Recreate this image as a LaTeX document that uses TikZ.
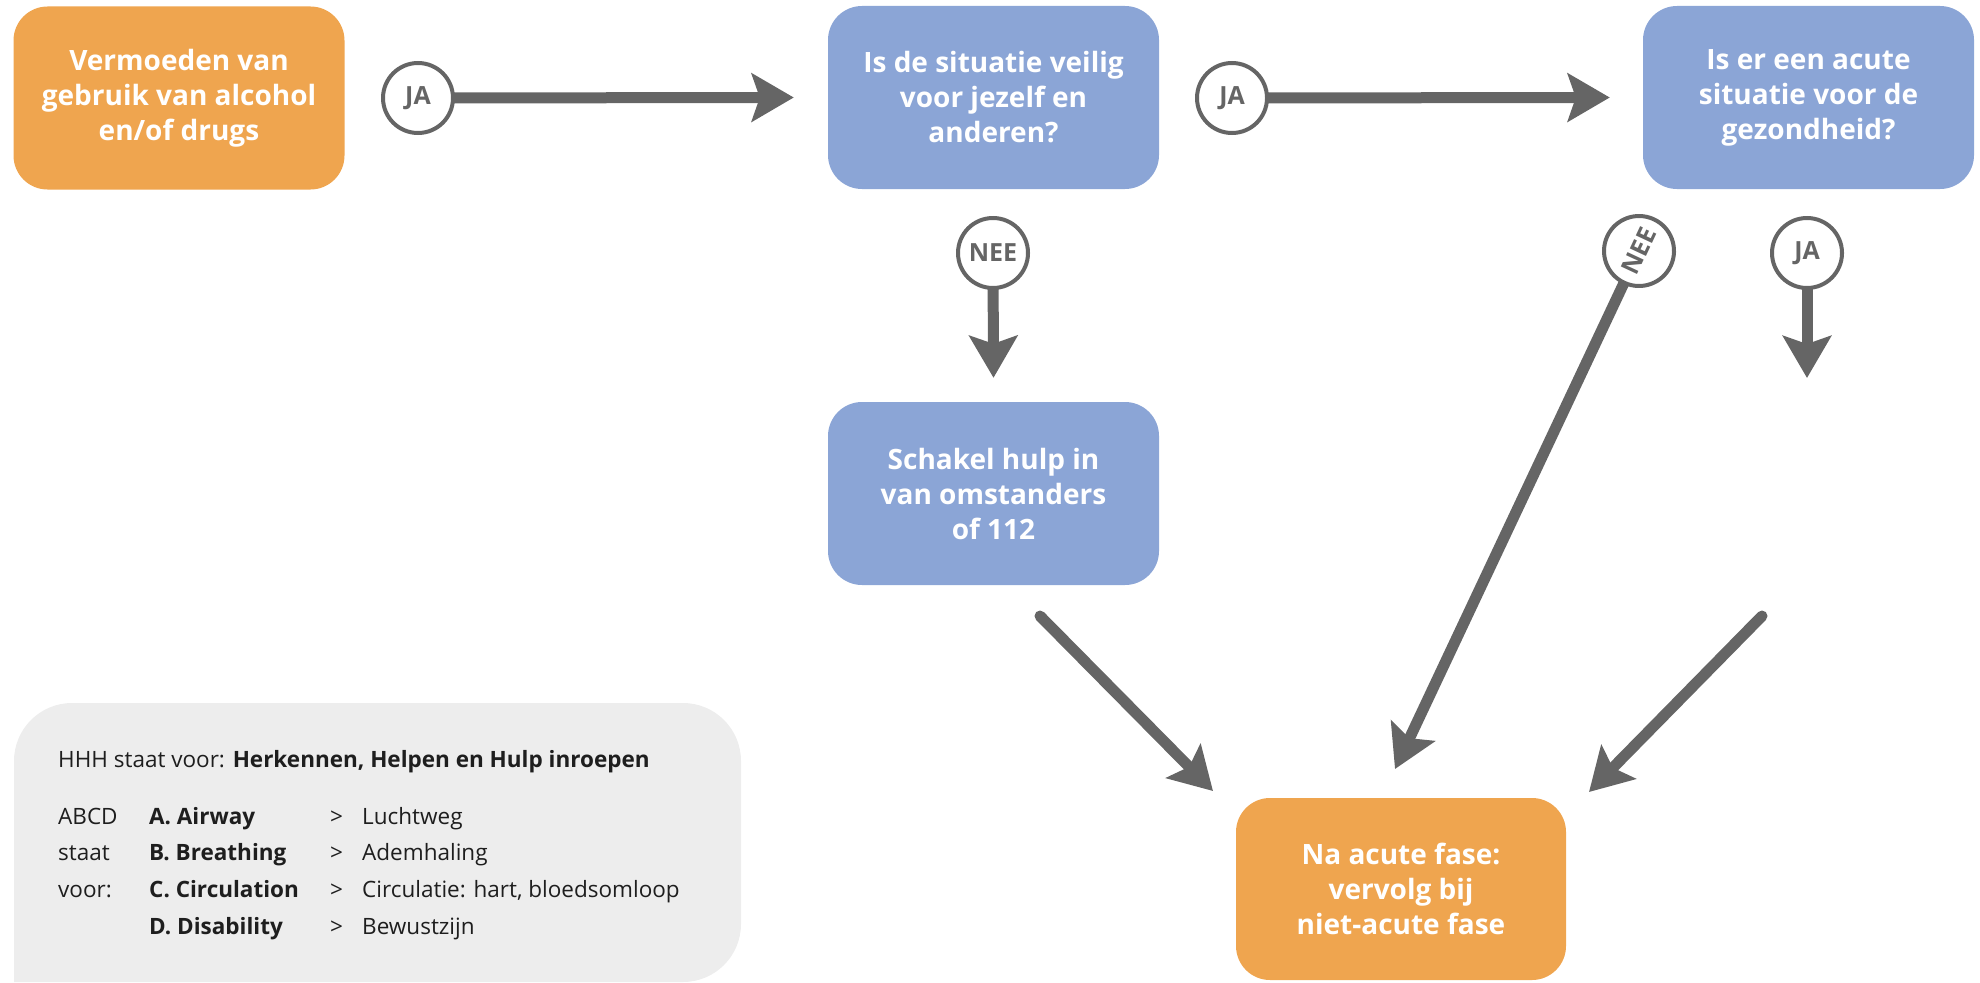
\documentclass[tikz,border=0pt]{standalone}
\usepackage{fontspec}
\setmainfont{Open Sans}
\usetikzlibrary{arrows.meta,positioning,backgrounds}

\definecolor{fcorange}{HTML}{EFA54F}
\definecolor{fcblue}{HTML}{8BA5D6}
\definecolor{fcgray}{HTML}{656565}
\definecolor{fclegend}{HTML}{EDEDED}
\definecolor{fctext}{HTML}{1E1E1E}

\tikzset{
  box/.style={rectangle, rounded corners=34pt, minimum width=331pt,
    minimum height=183pt, inner sep=0pt, text=white, align=center,
    font=\fontsize{28}{35}\selectfont\bfseries},
  startbox/.style={box, fill=fcorange},
  askbox/.style={box, fill=fcblue},
  answer/.style={circle, draw=fcgray, line width=4pt, fill=white,
    minimum size=70pt, inner sep=0pt, text=fcgray,
    font=\fontsize{25}{25}\selectfont\bfseries},
  flow/.style={draw=fcgray, line width=11pt, shorten <=-4pt,
    -{Stealth[length=42pt,width=48pt,inset=8pt]}},
  legendtext/.style={inner sep=0pt, text=fctext,
    font=\fontsize{22.5}{36.7}\selectfont},
}

\begin{document}
\begin{tikzpicture}[x=1pt,y=-1pt]

  \useasboundingbox (0,0) rectangle (1980,982);

  % legend panel
  \fill[fclegend, rounded corners=58pt] (14,982) -- (14,703) -- (741,703)
    -- (741,982) [sharp corners] -- cycle;

  % boxes
  \node[startbox] (vermoeden) at (179,98) {Vermoeden van\\gebruik van alcohol\\en/of drugs};
  \node[askbox] (veilig) at (993.5,97.5) {Is de situatie veilig\\voor jezelf en\\anderen?};
  \node[askbox] (acuut) at (1808.5,97.5) {Is er een acute\\situatie voor de\\gezondheid?};
  \node[askbox] (schakel) at (993.5,493.5) {Schakel hulp in\\van omstanders\\of 112};
  \node[startbox, minimum width=330pt, minimum height=182pt] (vervolg) at (1401,889)
    {Na acute fase:\\vervolg bij\\niet-acute fase};

  % answers
  \node[answer] (ja1) at (418,98) {JA};
  \node[answer] (ja2) at (1232,98) {JA};
  \node[answer] (nee1) at (993,253) {NEE};
  \node[answer, rotate=65] (nee2) at (1639,251) {NEE};
  \node[answer] (ja3) at (1807,253) {JA};

  % free ends
  \coordinate (jatip) at (1807,378);
  \coordinate (schakeluit) at (1040,616);
  \coordinate (schakeltip) at (1213,791);
  \coordinate (neetip) at (1395,769);
  \coordinate (acuutuit) at (1762,616);
  \coordinate (acuuttip) at (1589,792);

  \begin{scope}[on background layer]
    \draw[flow] (ja1) -- ([xshift=-34pt]veilig.west); % ja -> veilig
    \draw[flow] (ja2) -- ([xshift=-33pt]acuut.west); % ja -> acuut
    \draw[flow] (nee1) -- ([yshift=24pt]schakel.north); % nee -> schakel
    \draw[flow] (ja3) -- (jatip);
    \draw[flow] (nee2) -- (neetip);
  \end{scope}
  \draw[flow, shorten <=0pt, line cap=round] (schakeluit) -- (schakeltip);
  \draw[flow, shorten <=0pt, line cap=round] (acuutuit) -- (acuuttip);

  % legend
  \node[legendtext, anchor=base west] (hhh) at (58,767)
    {HHH staat voor: \textbf{Herkennen, Helpen en Hulp inroepen}};
  \node[legendtext, anchor=base west] (abcd) at (58,824)
    {\begin{tabular}[t]{@{}p{91pt}@{}p{181pt}@{}p{32pt}@{}l@{}}
      ABCD  & \textbf{A. Airway}      & > & Luchtweg\\
      staat & \textbf{B. Breathing}   & > & Ademhaling\\
      voor: & \textbf{C. Circulation} & > & Circulatie: hart, bloedsomloop\\
            & \textbf{D. Disability}  & > & Bewustzijn
    \end{tabular}};

\end{tikzpicture}
\end{document}
